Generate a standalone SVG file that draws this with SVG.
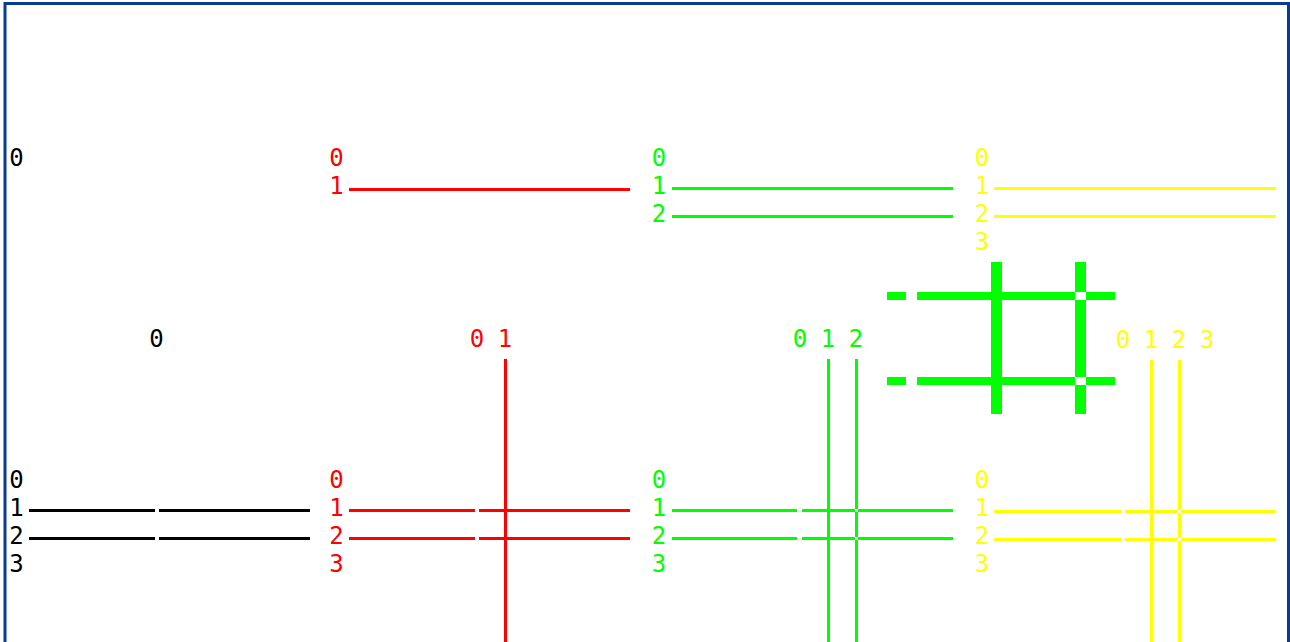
<svg xmlns="http://www.w3.org/2000/svg" width="1290" height="642" viewBox="0 0 1290 642">
<style>
text{font-family:"DejaVu Sans Mono","Liberation Mono",monospace;font-size:24px;text-anchor:middle}
.k{fill:#000}.r{fill:#ff0000}.g{fill:#00ff00}.y{fill:#ffff00}
line{stroke-width:3;shape-rendering:crispEdges}
.lk{stroke:#000}.lr{stroke:#ff0000}.lg{stroke:#00ff00}.ly{stroke:#ffff00}
.bar{fill:#00ff00;shape-rendering:crispEdges}
.hole{fill:#fff;shape-rendering:crispEdges}
</style>
<rect x="0" y="0" width="1290" height="642" fill="#fff"/>
<rect x="5" y="3.5" width="1283.5" height="720" fill="none" stroke="#0a3a96" stroke-width="3"/>

<g id="top-black">
<text class="k" x="16.5" y="166">0</text>
</g>
<g id="top-red">
<text class="r" x="336.5" y="166">0</text>
<text class="r" x="336.5" y="194">1</text>
</g>
<g id="top-green">
<text class="g" x="659" y="166">0</text>
<text class="g" x="659" y="194">1</text>
<text class="g" x="659" y="222">2</text>
</g>
<g id="top-yellow">
<text class="y" x="982" y="166">0</text>
<text class="y" x="982" y="194">1</text>
<text class="y" x="982" y="222">2</text>
<text class="y" x="982" y="250">3</text>
</g>

<g id="big-green">
<rect class="bar" x="887" y="292" width="19" height="8"/>
<rect class="bar" x="917" y="292" width="198" height="8"/>
<rect class="bar" x="887" y="377" width="19" height="8"/>
<rect class="bar" x="917" y="377" width="198" height="8"/>
<rect class="bar" x="991" y="262" width="11" height="152"/>
<rect class="bar" x="1075" y="262" width="11" height="152"/>
<rect class="hole" x="1075" y="292" width="11" height="8"/>
<rect class="hole" x="1075" y="377" width="11" height="8"/>
</g>

<g id="bottom-black">
<text class="k" x="156.5" y="347">0</text>
<text class="k" x="16.5" y="488">0</text>
<text class="k" x="16.5" y="516">1</text>
<text class="k" x="16.5" y="544">2</text>
<text class="k" x="16.5" y="572">3</text>
</g>
<g id="bottom-red">
<text class="r" x="477 491 505" y="347">0 1</text>
<text class="r" x="336.5" y="488">0</text>
<text class="r" x="336.5" y="516">1</text>
<text class="r" x="336.5" y="544">2</text>
<text class="r" x="336.5" y="572">3</text>
</g>
<g id="bottom-green">
<text class="g" x="800 814 828 842 856" y="347">0 1 2</text>
<text class="g" x="659" y="488">0</text>
<text class="g" x="659" y="516">1</text>
<text class="g" x="659" y="544">2</text>
<text class="g" x="659" y="572">3</text>
</g>
<g id="bottom-yellow">
<text class="y" x="1123 1137 1151 1165 1179 1193 1207" y="348">0 1 2 3</text>
<text class="y" x="982" y="488">0</text>
<text class="y" x="982" y="516">1</text>
<text class="y" x="982" y="544">2</text>
<text class="y" x="982" y="572">3</text>
</g>

<g id="connectors">
<line class="lr" x1="349" y1="189.5" x2="630" y2="189.5"/>
<line class="lg" x1="672" y1="188.5" x2="953" y2="188.5"/>
<line class="lg" x1="672" y1="216.5" x2="953" y2="216.5"/>
<line class="ly" x1="994" y1="188.5" x2="1276" y2="188.5"/>
<line class="ly" x1="994" y1="216.5" x2="1276" y2="216.5"/>

<line class="lk" x1="29" y1="510.5" x2="155" y2="510.5"/>
<line class="lk" x1="159" y1="510.5" x2="310" y2="510.5"/>
<line class="lk" x1="29" y1="538.5" x2="155" y2="538.5"/>
<line class="lk" x1="159" y1="538.5" x2="310" y2="538.5"/>

<line class="lr" x1="349" y1="510.5" x2="475" y2="510.5"/>
<line class="lr" x1="479" y1="510.5" x2="630" y2="510.5"/>
<line class="lr" x1="349" y1="538.5" x2="475" y2="538.5"/>
<line class="lr" x1="479" y1="538.5" x2="630" y2="538.5"/>
<line class="lr" x1="505.5" y1="359" x2="505.5" y2="642"/>

<line class="lg" x1="672" y1="510.5" x2="797" y2="510.5"/>
<line class="lg" x1="802" y1="510.5" x2="953" y2="510.5"/>
<line class="lg" x1="672" y1="538.5" x2="797" y2="538.5"/>
<line class="lg" x1="802" y1="538.5" x2="953" y2="538.5"/>
<line class="lg" x1="828.5" y1="359" x2="828.5" y2="642"/>
<line class="lg" x1="856.5" y1="359" x2="856.5" y2="642"/>
<rect class="hole" x="855" y="509" width="3" height="3"/>
<rect class="hole" x="855" y="537" width="3" height="3"/>

<line class="ly" x1="994" y1="511.5" x2="1121" y2="511.5"/>
<line class="ly" x1="1125" y1="511.5" x2="1276" y2="511.5"/>
<line class="ly" x1="994" y1="539.5" x2="1121" y2="539.5"/>
<line class="ly" x1="1125" y1="539.5" x2="1276" y2="539.5"/>
<line class="ly" x1="1151.5" y1="360" x2="1151.5" y2="642"/>
<line class="ly" x1="1179.5" y1="360" x2="1179.5" y2="642"/>
<rect class="hole" x="1178" y="510" width="3" height="3"/>
<rect class="hole" x="1178" y="538" width="3" height="3"/>
</g>
</svg>
